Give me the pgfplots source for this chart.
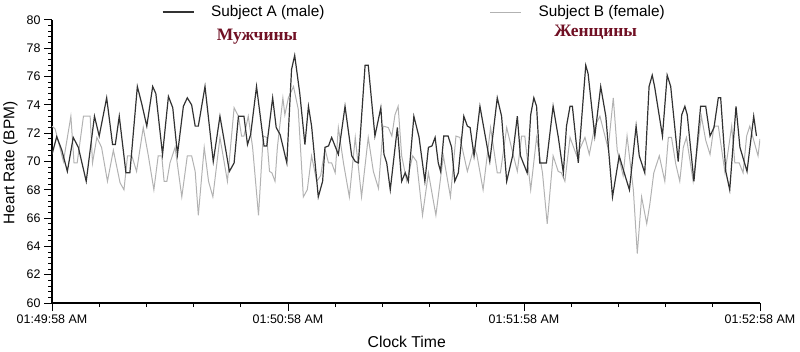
\documentclass[border=0pt]{standalone}
\usepackage{pgfplots}
\pgfplotsset{compat=1.18}
\usepackage{fontspec}
\setmainfont{Liberation Sans}
\newfontfamily\rufont{Liberation Serif}
\definecolor{darkline}{RGB}{50,50,50}
\definecolor{lightline}{RGB}{178,178,178}
\definecolor{rured}{RGB}{112,16,36}
\begin{document}
\begin{tikzpicture}
\begin{axis}[
  name=ax,
  scale only axis,
  width=708bp, height=283bp,
  xmin=0, xmax=180, ymin=60, ymax=80,
  axis x line*=bottom, axis y line*=left,
  axis line style={line width=1.4bp, black},
  xtick={0,60,120,180},
  xticklabels={01:49:58 AM,01:50:58 AM,01:51:58 AM,01:52:58 AM},
  minor x tick num=4,
  ytick={60,62,...,80},
  minor y tick num=4,
  tick align=outside,
  major tick length=8bp, minor tick length=4bp,
  every tick/.style={black, line width=1bp},
  ticklabel style={font=\fontsize{12.5}{15}\selectfont},
  /pgf/number format/assume math mode=true,
  xlabel={Clock Time}, ylabel={Heart Rate (BPM)},
  xlabel style={font=\fontsize{15.8}{18}\selectfont, at={(axis description cs:0.501,0)}, anchor=base, yshift=-44bp},
  ylabel style={font=\fontsize{15.5}{18}\selectfont, at={(axis description cs:-0.053,0.495)}, anchor=base},
  legend columns=2,
  legend image code/.code={\draw[#1] (0bp,0bp) -- (31bp,0bp);},
  legend style={draw=none, fill=none, inner sep=0pt, at={(axis description cs:0.155,1.028)}, anchor=west,
    font=\fontsize{15.4}{18}\selectfont, cells={anchor=west}, nodes={inner sep=0pt},
    /tikz/every odd column/.append style={column sep=17bp},
    /tikz/every even column/.append style={column sep=165bp}},
]
\addplot[lightline, line width=1bp, forget plot] coordinates {
(0,72.5)(0.8,72.3)(2.9,70.0)(4.8,73.2)(5.6,69.9)(6.4,69.9)(8.0,73.2)(9.7,73.2)(10.3,69.9)(11.4,71.7)
(12.6,71.0)(14.1,68.6)(15.6,70.8)(17.3,68.5)(18.3,68.0)(19.2,70.4)(20.3,70.4)(21.5,69.3)(23.2,72.4)(24.5,70.4)
(25.9,68.0)(27.0,70.4)(27.9,70.4)(28.5,68.6)(29.2,68.6)(30.0,69.9)(31.3,71.0)(33.0,67.5)(34.4,70.4)(35.5,70.4)
(36.4,69.3)(37.2,66.2)(38.7,71.0)(39.8,68.6)(40.9,67.5)(42.7,71.7)(44.6,68.6)(46.3,73.8)(47.4,73.2)(48.2,71.8)
(48.8,71.8)(49.9,73.2)(51.0,71.0)(52.5,66.2)(53.7,71.8)(54.6,71.7)(55.3,69.3)(55.9,69.2)(56.7,68.6)(57.3,71.0)
(58.7,74.5)(59.2,73.3)(60.1,74.5)(61.4,75.3)(62.6,73.7)(63.9,67.5)(64.9,68.0)(66.0,70.4)(67.3,68.6)(68.3,69.0)
(69.4,70.9)(70.3,69.9)(71.1,69.9)(72.0,69.2)(72.8,72.4)(74.1,69.9)(75.6,67.5)(77.1,71.7)(78.7,67.5)(80.4,71.7)
(81.7,69.3)(83.0,68.1)(84.2,72.5)(85.5,72.4)(86.4,71.8)(87.2,73.3)(88.0,73.9)(88.9,70.4)(90.2,68.6)(91.7,70.4)
(92.7,70.0)(94.2,66.2)(95.7,69.2)(97.6,66.2)(99.5,70.4)(101.3,67.5)(102.7,71.8)(103.7,71.7)(105.6,69.3)(107.3,71.0)
(108.0,70.5)(109.6,68.0)(111.5,72.4)(113.2,69.2)(114.0,69.2)(115.6,72.4)(116.8,71.0)(118.3,69.3)(119.4,71.8)(120.2,71.8)
(121.7,68.0)(123.2,71.7)(124.7,69.2)(125.9,65.6)(127.4,70.4)(128.7,69.3)(129.5,69.2)(130.4,68.6)(131.7,71.7)(133.4,70.4)
(135.5,71.7)(136.6,70.5)(138.0,72.5)(139.3,73.2)(141.4,70.9)(142.7,74.5)(143.7,70.8)(145.2,69.0)(146.2,71.8)(147.8,68.0)
(148.8,63.5)(149.9,67.5)(151.2,65.6)(152.0,67.0)(153.0,69.2)(154.4,70.4)(155.8,68.6)(156.7,71.7)(157.5,71.7)(158.6,69.8)
(159.6,68.6)(160.5,71.0)(161.3,71.7)(163.0,68.6)(165.1,73.2)(166.2,71.5)(167.3,70.5)(168.3,72.5)(169.4,72.5)(171.1,69.2)
(172.8,72.5)(173.6,69.9)(174.7,69.9)(175.7,69.2)(176.6,71.8)(177.4,72.5)(178.7,71.2)(179.5,70.4)(180.0,71.6)
};
\addplot[darkline, line width=1.2bp] coordinates {
(0,70.5)(1.2,71.75)(2.5,70.8)(3.9,69.3)(5.4,71.7)(6.7,71.0)(8.7,68.6)(9.7,70.8)(10.8,73.2)(12.0,71.8)
(13.9,74.5)(15.4,71.2)(16.1,71.2)(17.1,73.2)(18.8,69.2)(19.8,69.2)(21.7,75.3)(22.8,74.1)(24.1,72.5)(25.6,75.3)
(26.4,74.8)(28.1,70.5)(29.6,74.6)(30.7,73.8)(31.9,70.5)(33.4,73.9)(34.4,74.5)(35.5,74.0)(36.4,72.5)(37.2,72.5)
(38.9,75.3)(41.0,70.0)(42.7,73.2)(43.7,71.6)(45.1,69.3)(46.3,69.9)(47.4,73.2)(48.8,73.2)(49.7,71.2)(50.5,71.9)
(52.0,75.3)(53.9,71.1)(54.6,71.1)(56.1,74.5)(57.0,72.4)(58.0,71.9)(59.7,69.9)(60.9,76.5)(61.7,77.5)(63.0,74.8)
(64.3,71.2)(65.2,73.9)(66.0,72.5)(67.7,67.5)(68.8,68.6)(69.4,71.0)(70.3,71.1)(71.1,71.7)(72.8,70.5)(74.5,73.9)
(76.2,70.4)(77.1,70.0)(77.9,69.9)(79.6,76.8)(80.4,76.8)(82.1,71.8)(83.6,73.8)(84.4,70.5)(85.1,69.9)(86.0,68.0)
(87.8,72.4)(88.9,68.6)(89.8,69.2)(90.6,68.6)(92.0,73.2)(93.3,71.75)(94.8,68.6)(95.7,71.0)(96.6,71.1)(97.4,71.7)
(98.2,69.9)(98.8,69.3)(99.6,71.8)(100.7,71.8)(101.6,71.0)(102.4,68.6)(103.3,69.2)(104.7,73.2)(105.6,72.5)(106.3,72.4)
(107.3,70.4)(108.8,73.9)(111.3,70.0)(113.2,74.5)(114.3,73.2)(115.6,68.6)(117.1,70.4)(118.3,73.2)(119.1,70.4)(120.8,69.2)
(121.7,73.3)(122.5,74.5)(123.2,73.9)(124.0,69.9)(125.7,69.9)(127.4,73.9)(128.7,71.75)(130.0,69.2)(130.8,72.5)(131.7,73.9)
(132.3,73.9)(133.8,69.9)(135.7,76.8)(136.3,76.2)(138.0,71.8)(139.5,75.3)(140.8,73.2)(142.5,67.5)(144.2,70.4)(145.7,69.0)
(146.8,68.0)(148.5,72.5)(149.3,70.4)(150.7,69.2)(151.8,75.3)(152.6,76.1)(153.2,75.3)(155.2,71.8)(156.4,76.1)(157.3,75.3)
(159.2,70.0)(160.1,73.3)(160.9,73.9)(161.5,73.3)(163.2,68.6)(164.9,73.9)(166.2,73.9)(167.3,71.8)(168.3,72.4)(169.4,74.5)
(170.0,74.5)(171.3,69.3)(172.3,68.0)(173.9,73.9)(174.9,71.0)(176.7,69.3)(178.4,73.2)(179.1,71.8)
};
\addlegendimage{lightline, line width=1bp}
\legend{Subject A (male),Subject B (female)}
\node[anchor=base, text=rured, font=\rufont\bfseries\fontsize{17.5}{20}\selectfont] at (axis description cs:0.2896,0.926) {Мужчины};
\node[anchor=base, text=rured, font=\rufont\bfseries\fontsize{17.5}{20}\selectfont] at (axis description cs:0.768,0.940) {Женщины};
\end{axis}
\pgfresetboundingbox
\path[use as bounding box] ([xshift=-52bp,yshift=-49bp]ax.south west) rectangle ([xshift=40bp,yshift=20bp]ax.north east);
\end{tikzpicture}
\end{document}
